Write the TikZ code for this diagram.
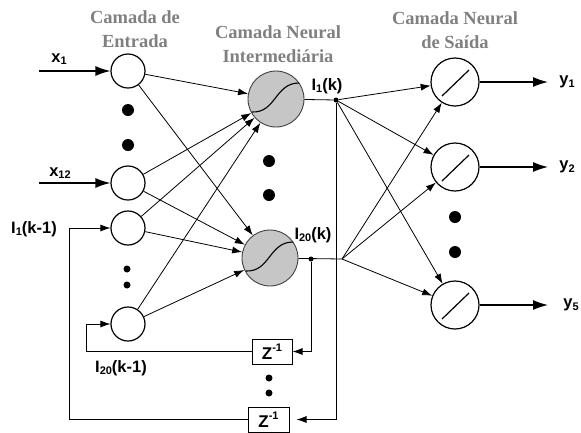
\documentclass[tikz,border=0pt]{standalone}
\usepackage{fontspec}
\setmainfont{Liberation Sans}
\newfontfamily\ttlfont{Liberation Serif}
\usetikzlibrary{arrows.meta,positioning,calc}

\newcommand{\sbs}[1]{\raisebox{-0.3ex}{\fontsize{11}{11}\selectfont #1}}
\newcommand{\sps}[1]{\raisebox{0.85ex}{\fontsize{11}{11}\selectfont #1}}

\tikzset{
  inp/.style={circle,draw,line width=1.2pt,minimum size=34pt,inner sep=0pt},
  hid/.style={circle,draw=black!75,fill=gray!45,line width=0.9pt,minimum size=56pt,inner sep=0pt},
  outn/.style={circle,draw,line width=1.2pt,minimum size=48pt,inner sep=0pt},
  dly/.style={draw,line width=1pt,minimum width=40pt,minimum height=25pt,inner sep=0pt,font=\bfseries\fontsize{17}{17}\selectfont},
  ttl/.style={font=\ttlfont\bfseries\fontsize{18.5}{23.5}\selectfont,text=gray,align=center},
  lbl/.style={font=\bfseries\fontsize{16.5}{16.5}\selectfont,inner sep=0pt},
  bigdot/.style={circle,fill,minimum size=12pt,inner sep=0pt},
  smdot/.style={circle,fill,minimum size=7pt,inner sep=0pt},
  jdot/.style={circle,fill,minimum size=5pt,inner sep=0pt},
  arr/.style={-{Latex[length=10pt,width=7pt]},line width=0.8pt},
  bigarr/.style={-{Latex[length=15pt,width=10pt]},line width=1.3pt}
}

\begin{document}
\begin{tikzpicture}[x=1pt,y=-1pt]
  \useasboundingbox (0,0) rectangle (581,432);

  % Titles
  \node[ttl] (tin) at (135,29) {Camada de\\Entrada};
  \node[ttl] (thid) at (278,44) {Camada Neural\\Intermediária};
  \node[ttl] (tout) at (455,30) {Camada Neural\\de Saída};

  % Input layer
  \node[inp] (in1) at (128,71) {};
  \node[inp] (in12) at (128,183) {};
  \node[inp] (fb1) at (128,228) {};
  \node[inp] (fb20) at (128,324) {};
  \node[bigdot] (di1) at (128,110) {};
  \node[bigdot] (di2) at (128,145) {};
  \node[smdot] (di3) at (127,269) {};
  \node[smdot] (di4) at (127,285) {};

  % Hidden layer
  \node[hid] (h1) at (276,99) {};
  \node[hid] (h20) at (270,258) {};
  \node[bigdot] (dh1) at (269,161) {};
  \node[bigdot] (dh2) at (269,195) {};
  \foreach \n in {h1,h20}
    \draw[line width=1.1pt, shift={(\n.center)}] (-24,13) .. controls (0,14) and (-1,-16) .. (23,-16);

  % Output layer
  \node[outn] (o1) at (455,82) {};
  \node[outn] (o2) at (455,167) {};
  \node[outn] (o5) at (455,305) {};
  \node[bigdot] (do1) at (455,217) {};
  \node[bigdot] (do2) at (455,252) {};
  \foreach \n in {o1,o2,o5}
    \draw[line width=1.2pt, shift={(\n.center)}] (-13,14) -- (14,-12);

  % Delays
  \node[dly] (z20) at (272,351.5) {Z\sps{-1}};
  \node[dly, minimum width=41pt] (z1) at (268.5,419.5) {Z\sps{-1}};
  \node[smdot] (dz1) at (269,378) {};
  \node[smdot] (dz2) at (269,393) {};

  % Junctions
  \node[jdot] (j1) at (336,100) {};
  \node[jdot] (j20) at (311,259) {};
  \coordinate (f20) at (342,259);
  \coordinate (k20) at (86,351.5);
  \coordinate (k1) at (69,419.5);

  % Inputs and outputs
  \coordinate (xs1) at (39,71);
  \coordinate (xs12) at (39,183);
  \coordinate (ye1) at (548,82);
  \coordinate (ye2) at (548,167);
  \coordinate (ye5) at (548,305);
  \draw[bigarr] (xs1) -- (in1);
  \draw[bigarr] (xs12) -- (in12);
  \draw[bigarr] (o1) -- (ye1);
  \draw[bigarr] (o2) -- (ye2);
  \draw[bigarr] (o5) -- (ye5);

  % Input -> hidden
  \foreach \s in {in1,in12,fb1,fb20} \foreach \t in {h1,h20}
    \draw[arr] (\s) -- (\t);

  % Hidden -> output
  \draw[line width=0.8pt] (h1) -- (j1);
  \draw[line width=0.8pt] (h20) -- (f20);
  \foreach \t in {o1,o2,o5} {
    \draw[arr] (j1) -- (\t);
    \draw[arr] (f20) -- (\t);
  }

  % Feedback through delays
  \draw[arr] (j20) |- (z20);
  \draw[arr, shorten >=7pt] (j1) |- (z1);
  \draw[arr] (z20) -- (k20) |- (fb20);
  \draw[arr] (z1) -- (k1) |- (fb1);

  % Labels
  \node[lbl] (lx1) at (59,59) {x\sbs{1}};
  \node[lbl] (lx12) at (60,173) {x\sbs{12}};
  \node[lbl] (ly1) at (567,82) {y\sbs{1}};
  \node[lbl] (ly2) at (567,167) {y\sbs{2}};
  \node[lbl] (ly5) at (571,305) {y\sbs{5}};
  \node[lbl] (li1) at (327,86) {I\sbs{1}(k)};
  \node[lbl] (li20) at (313,235) {I\sbs{20}(k)};
  \node[lbl] (lp1) at (34,229) {I\sbs{1}(k-1)};
  \node[lbl] (lp20) at (121,368) {I\sbs{20}(k-1)};
\end{tikzpicture}
\end{document}
